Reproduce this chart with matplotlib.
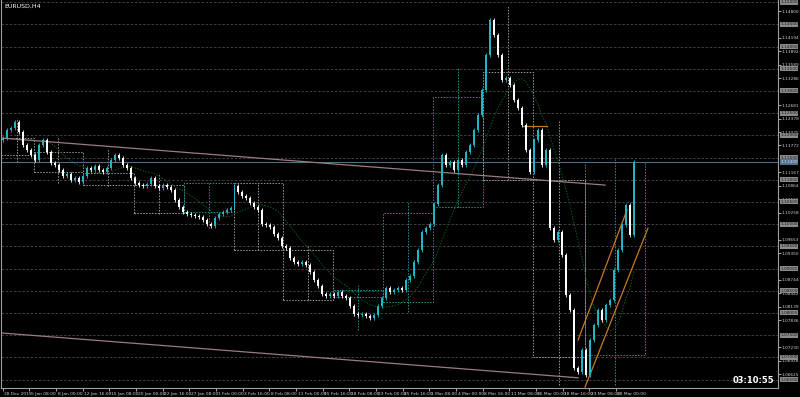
import numpy as np
import pandas as pd
import matplotlib.pyplot as plt
from matplotlib.patches import Rectangle
import matplotlib.transforms as mtransforms

symbol_title = "EURUSD,H4"
server_time = "03:10:55"

# closes of the candles, left to right
closes = [1.1194, 1.1212, 1.1217, 1.1230, 1.1208, 1.1178, 1.1167, 1.1156, 1.1144, 1.1178,
          1.1190, 1.1163, 1.1138, 1.1133, 1.1122, 1.1108, 1.1113, 1.1099, 1.1104, 1.1095,
          1.1108, 1.1126, 1.1122, 1.1131, 1.1122, 1.1117, 1.1126, 1.1144, 1.1156, 1.1149,
          1.1133, 1.1126, 1.1104, 1.1093, 1.1088, 1.1086, 1.1090, 1.1104, 1.1086, 1.1081,
          1.1088, 1.1084, 1.1077, 1.1054, 1.1039, 1.1027, 1.1023, 1.1021, 1.1018, 1.1016,
          1.1009, 1.1000, 1.0996, 1.1014, 1.1023, 1.1027, 1.1032, 1.1036, 1.1086, 1.1072,
          1.1063, 1.1059, 1.1048, 1.1039, 1.1032, 1.1000, 1.0998, 1.0994, 1.0978, 1.0969,
          1.0951, 1.0946, 1.0924, 1.0915, 1.0910, 1.0915, 1.0908, 1.0892, 1.0874, 1.0861,
          1.0843, 1.0838, 1.0843, 1.0838, 1.0847, 1.0838, 1.0834, 1.0816, 1.0798, 1.0796,
          1.0798, 1.0793, 1.0789, 1.0796, 1.0816, 1.0834, 1.0856, 1.0847, 1.0852, 1.0856,
          1.0852, 1.0874, 1.0883, 1.0915, 1.0942, 1.0982, 1.0991, 1.1000, 1.1045, 1.1088,
          1.1156, 1.1133, 1.1140, 1.1122, 1.1144, 1.1133, 1.1163, 1.1178, 1.1212, 1.1246,
          1.1302, 1.1381, 1.1460, 1.1426, 1.1381, 1.1325, 1.1329, 1.1313, 1.1280, 1.1262,
          1.1223, 1.1167, 1.1117, 1.1190, 1.1212, 1.1133, 1.1167, 1.0991, 1.0964, 1.0982,
          1.0931, 1.0840, 1.0807, 1.0676, 1.0667, 1.0717, 1.0660, 1.0739, 1.0773, 1.0807,
          1.0784, 1.0818, 1.0829, 1.0897, 1.0942, 1.0998, 1.1043, 1.0976, 1.1140]
first_open = 1.1190

bid_price = 1.11400
grid_levels = [1.150, 1.145, 1.140, 1.135, 1.130, 1.125, 1.120, 1.115, 1.110,
               1.105, 1.100, 1.095, 1.090, 1.085, 1.080, 1.075, 1.070, 1.065]
# scale labels (the ones hidden under the level boxes are left out)
price_ticks = ["1.14800", "1.14194", "1.13892", "1.13589", "1.13286",
               "1.12681", "1.12378", "1.12075", "1.11772", "1.11167", "1.10864",
               "1.10561", "1.10258", "1.09653", "1.09350", "1.08744",
               "1.08442", "1.08139", "1.07836", "1.07230", "1.06928", "1.06625"]
time_labels = ["28 Dec 2015", "5 Jan 08:00", "8 Jan 00:00", "12 Jan 16:00", "15 Jan 08:00",
               "20 Jan 00:00", "22 Jan 16:00", "27 Jan 08:00", "1 Feb 00:00", "3 Feb 16:00",
               "8 Feb 08:00", "11 Feb 00:00", "15 Feb 16:00", "18 Feb 08:00", "23 Feb 00:00",
               "25 Feb 16:00", "1 Mar 08:00", "4 Mar 00:00", "8 Mar 16:00", "11 Mar 08:00",
               "16 Mar 00:00", "18 Mar 16:00", "23 Mar 08:00", "28 Mar 00:00"]
label_every = 6.675  # candles between time labels

# weekly boxes
week_start = [-0.5, 7.75, 20, 32.75, 45.25, 57.75, 70.25, 82.75, 95.25, 107.75, 120.25, 132.75, 145.75]
week_end = [7.75, 20, 32.75, 45.25, 57.75, 70.25, 82.75, 95.25, 107.75, 120.25, 132.75, 145.75, 160.75]
week_open = [1.1194, 1.1163, 1.1115, 1.1088, 1.1027, 1.1093, 1.0942, 1.0836, 1.0825, 1.1039, 1.1343, 1.1099, 1.0705]
week_close = [1.1156, 1.1117, 1.1088, 1.1025, 1.1093, 1.0942, 1.0829, 1.0852, 1.1025, 1.1286, 1.1099, 1.0701, 1.1140]
week_high = [1.1239, 1.1196, 1.1171, 1.1115, 1.1093, 1.1093, 1.0953, 1.0863, 1.1050, 1.1354, 1.1494, 1.1235, 1.1149]
week_low = [1.1140, 1.1093, 1.1086, 1.1023, 1.0991, 1.0942, 1.0829, 1.0762, 1.0802, 1.1039, 1.1099, 1.0638, 1.0638]

# trend lines (bar, price) pairs
pink_x = [(-0.5, 150.75), (-0.5, 144)]
pink_y = [(1.1194, 1.1088), (1.0755, 1.0654)]
orange_x = [(144, 156.25), (145.75, 161.5), (130.25, 136.25)]
orange_y = [(1.0739, 1.1032), (1.0633, 1.0991), (1.1221, 1.1221)]

BULL = '#22b5c5'
BEAR = '#ffffff'

fig = plt.figure(figsize=(8, 3.97), dpi=100, facecolor='black')
ax = fig.add_axes([0.001, 9 / 397, 777 / 800, 388 / 397], facecolor='black')

for lv in grid_levels:
    ax.axhline(lv, color='#4a4a4a', lw=0.6, ls=(0, (3, 2)), zorder=1)

# weekly boxes
for s, e, o, c, h, l in zip(week_start, week_end, week_open, week_close, week_high, week_low):
    col = '#1d8f9c' if c > o else '#9a9a9a'
    ax.add_patch(Rectangle((s, min(o, c)), e - s, abs(c - o), fill=False,
                           ec=col, lw=0.7, ls=(0, (1.5, 1.5)), zorder=2))
    ax.vlines((s + e) / 2, l, h, colors=col, lw=0.7, linestyles=(0, (1.5, 1.5)), zorder=2)

# moving average
ma = pd.Series(closes).rolling(12).mean()
ax.plot(np.arange(len(closes)), ma, color='#0d5c1c', lw=0.7, ls=(0, (1.5, 1.5)), zorder=2)

ax.axhline(bid_price, color='#4f7394', lw=0.7, zorder=2)

for xs, ys in zip(pink_x, pink_y):
    ax.plot(xs, ys, color='#9a7c84', lw=0.9, zorder=3)
for xs, ys in zip(orange_x, orange_y):
    ax.plot(xs, ys, color='#c87a20', lw=0.9, zorder=3)

# candles
cl = np.array(closes)
op = np.r_[first_open, cl[:-1]]
x = np.arange(len(cl))
up = cl >= op
colors = np.where(up, BULL, BEAR)
pad = 0.0005
ax.vlines(x, np.minimum(op, cl) - pad, np.maximum(op, cl) + pad, colors=colors, lw=0.6, zorder=4)
h = cl - op
h = np.where(np.abs(h) < 0.00006, 0.00006, h)
ax.bar(x, h, bottom=op, width=0.5, color=colors, lw=0, zorder=5)

ax.set_xlim(-0.5, 194)
ax.set_ylim(1.06310, 1.15048)

# axes styling
for side in ['left', 'right', 'bottom']:
    ax.spines[side].set_color('#a0a0a0')
    ax.spines[side].set_linewidth(0.8)
ax.spines['top'].set_visible(False)

ax.yaxis.tick_right()
ax.set_yticks([float(t) for t in price_ticks])
ax.set_yticklabels(price_ticks)
ax.tick_params(axis='y', right=True, left=False, length=2, width=0.6, color='#c0c0c0',
               labelsize=3.1, labelcolor='#d0d0d0', pad=0.8)

ax.set_xticks(np.arange(len(time_labels)) * label_every)
ax.set_xticklabels(time_labels)
ax.tick_params(axis='x', length=2.5, width=0.6, color='#c0c0c0', labelsize=3.2,
               labelcolor='#d0d0d0', pad=0.5)
offset = mtransforms.ScaledTranslation(1 / 72, 0, fig.dpi_scale_trans)
for lab in ax.get_xticklabels():
    lab.set_ha('left')
    lab.set_transform(lab.get_transform() + offset)

trans = mtransforms.blended_transform_factory(ax.transAxes, ax.transData)
for lv in grid_levels:
    ax.text(1.003, lv, f"{lv:.5f}", transform=trans, fontsize=3.1, color='#1a1a1a',
            ha='left', va='center', clip_on=False, zorder=6,
            bbox=dict(boxstyle='square,pad=0.12', fc='#8a8a8a', ec='none'))
ax.text(1.003, bid_price, f"{bid_price:.5f}", transform=trans, fontsize=3.1, color='#e0e0e0',
        ha='left', va='center', clip_on=False, zorder=7,
        bbox=dict(boxstyle='square,pad=0.12', fc='#4f7394', ec='none'))

ax.text(0.005, 0.99, symbol_title, transform=ax.transAxes, fontsize=4.5, color='white',
        ha='left', va='top')
ax.text(0.996, 0.02, server_time, transform=ax.transAxes, fontsize=6, color='white',
        fontweight='bold', ha='right', va='center')

fig.savefig('out.png', dpi=100, facecolor='black')
